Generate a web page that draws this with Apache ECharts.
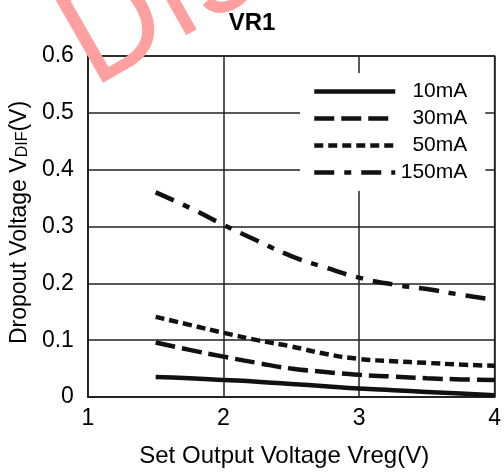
<!DOCTYPE html>
<html>
<head>
<meta charset="utf-8">
<script src="https://cdn.jsdelivr.net/npm/echarts@6/dist/echarts.min.js"></script>
<style>
  html, body { margin: 0; padding: 0; background: #fff; }
  #chart { width: 504px; height: 473px; }
</style>
</head>
<body>
<div id="chart"></div>
<script>
// set output voltage (V)
var vreg = [1.5, 1.75, 2, 2.25, 2.5, 2.75, 3, 3.25, 3.5, 3.75, 4];
// dropout voltage (V) per load current
var i10 = [0.035, 0.033, 0.030, 0.027, 0.023, 0.019, 0.015, 0.012, 0.009, 0.006, 0.003];
var i30 = [0.096, 0.083, 0.071, 0.060, 0.050, 0.044, 0.039, 0.036, 0.033, 0.031, 0.030];
var i50 = [0.141, 0.127, 0.113, 0.100, 0.089, 0.076, 0.067, 0.063, 0.060, 0.057, 0.055];
var i150 = [0.360, 0.333, 0.303, 0.275, 0.248, 0.228, 0.210, 0.198, 0.190, 0.180, 0.171];
var names = ['10mA', '30mA', '50mA', '150mA'];
var dashes = ['solid', [20, 7], [9, 5], [20, 10, 7, 10]];

function pairs(ys) {
    var out = [];
    for (var i = 0; i < vreg.length; i++) {
        out.push([vreg[i], ys[i]]);
    }
    return out;
}

var chart = echarts.init(document.getElementById('chart'));
var font = 'Liberation Sans, Arial, sans-serif';
var allData = [i10, i30, i50, i150];
var series = [];
for (var k = 0; k < names.length; k++) {
    series.push({
        name: names[k],
        type: 'line',
        smooth: true,
        symbol: 'none',
        data: pairs(allData[k]),
        lineStyle: { color: '#111', width: 4.5, type: dashes[k] },
        itemStyle: { color: '#111' },
        z: 3
    });
}

var option = {
    animation: false,
    backgroundColor: '#fff',
    title: {
        text: 'VR1',
        left: 'center',
        top: 6,
        textStyle: { fontFamily: font, fontSize: 24, fontWeight: 'bold', color: '#000' }
    },
    graphic: [{
        type: 'text',
        x: 106,
        y: 112,
        rotation: 0.52,
        silent: true,
        z: 100,
        style: {
            text: 'Discontinued',
            font: '400 135px Inter, sans-serif',
            fill: '#ffa0a0',
            verticalAlign: 'bottom'
        }
    }],
    legend: {
        orient: 'vertical',
        left: 300,
        top: 73,
        padding: [8, 18, 8, 12],
        backgroundColor: '#fff',
        itemWidth: 81,
        itemHeight: 14,
        itemGap: 6,
        itemStyle: { opacity: 0 },
        lineStyle: { width: 4.5, color: '#111' },
        formatter: '{r|{name}}',
        textStyle: {
            fontFamily: font, fontSize: 21, color: '#000',
            rich: { r: { width: 67, align: 'right', fontSize: 21, lineHeight: 20, fontFamily: font } }
        },
        data: names
    },
    grid: {
        left: 85, right: 6, top: 56, bottom: 76,
        show: true, borderColor: '#222', borderWidth: 1.5
    },
    xAxis: {
        type: 'value', min: 1, max: 4, interval: 1,
        name: 'Set Output Voltage Vreg(V)',
        nameLocation: 'middle', nameGap: 47,
        nameTextStyle: { fontFamily: font, fontSize: 24, color: '#000', padding: [0, 14, 0, 0] },
        axisLine: { lineStyle: { color: '#222', width: 1.5 } },
        axisTick: { show: false },
        axisLabel: { fontFamily: font, fontSize: 23, color: '#000', margin: 10 },
        splitLine: { lineStyle: { color: '#222', width: 1.5 } }
    },
    yAxis: {
        type: 'value', min: 0, max: 0.6, interval: 0.1,
        name: 'Dropout Voltage V{s|DIF}(V)',
        nameLocation: 'middle', nameGap: 56, nameRotate: 90,
        nameTextStyle: {
            fontFamily: font, fontSize: 23, color: '#000', padding: [0, 0, 0, 8],
            rich: { s: { fontFamily: font, fontSize: 16, color: '#000', verticalAlign: 'bottom', padding: [6, 0, 0, 0] } }
        },
        axisLine: { lineStyle: { color: '#222', width: 1.5 } },
        axisTick: { show: false },
        axisLabel: { fontFamily: font, fontSize: 23, color: '#000', margin: 14 },
        splitLine: { lineStyle: { color: '#222', width: 1.5 } }
    },
    series: series
};
chart.setOption(option);
</script>
</body>
</html>
